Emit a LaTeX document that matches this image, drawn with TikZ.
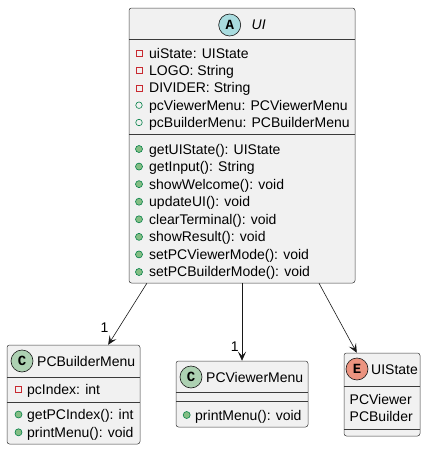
\documentclass[tikz,border=0pt]{standalone}
\usepackage{fontspec}
\setmainfont{Liberation Sans}
\newfontfamily\spotfont{Liberation Mono}
\usetikzlibrary{arrows.meta, calc}

\definecolor{boxfill}{HTML}{F1F1F1}
\definecolor{boxline}{HTML}{181818}
\definecolor{privred}{HTML}{C82930}
\definecolor{pubgreen}{HTML}{038048}
\definecolor{pubfill}{HTML}{84BE84}
\definecolor{absfill}{HTML}{A9DCDF}
\definecolor{classfill}{HTML}{ADD1B2}
\definecolor{enumfill}{HTML}{EB937F}

\begin{document}
\begin{tikzpicture}[x=1pt, y=-1pt]
    % Definizione stili
    \tikzset{
        classbox/.style 2 args={
            rectangle,
            draw=boxline!85,
            fill=boxfill,
            rounded corners=2.5pt,
            line width=0.5pt,
            minimum width=#1,
            minimum height=#2,
            inner sep=0pt
        },
        spot/.style={
            circle,
            draw=boxline,
            fill=#1,
            line width=0.6pt,
            minimum size=22pt,
            inner sep=0pt,
            font=\spotfont\bfseries\fontsize{14}{14}\selectfont
        },
        header/.style={anchor=base west, inner sep=0pt, font=\fontsize{14}{17}\selectfont},
        member/.style={anchor=base west, inner sep=0pt, font=\fontsize{14}{17}\selectfont},
        priv/.style={rectangle, draw=privred, line width=0.6pt, minimum size=6pt, inner sep=0pt},
        pubf/.style={circle, draw=pubgreen, line width=0.6pt, minimum size=6.5pt, inner sep=0pt},
        pubm/.style={circle, draw=pubgreen, fill=pubfill, line width=0.6pt, minimum size=7pt, inner sep=0pt},
        divider/.style={draw=boxline!85, line width=0.5pt},
        assoc/.style={-{Stealth[length=9pt, width=8pt, inset=4pt]}, line width=0.6pt, draw=boxline},
        mult/.style={inner sep=0pt, anchor=base east, font=\fontsize{14}{17}\selectfont}
    }

    \useasboundingbox (0,0) rectangle (426,450);

    % Posizionamento assoluto delle classi
    \node[classbox={226pt}{275pt}] at (242,145.5) (ui) {};
    \node[classbox={133pt}{99pt}] at (73.5,394.5) (pcb) {};
    \node[classbox={132pt}{66pt}] at (242,394) (pcv) {};
    \node[classbox={76pt}{83pt}] at (382,394.5) (state) {};

    % Intestazioni
    \node[spot=absfill] at (229.7,25) (ui-spot) {A};
    \node[header, font=\fontsize{14}{17}\selectfont\itshape] at (251.5,29.5) (ui-name) {UI};
    \node[spot=classfill] at (22,361) (pcb-spot) {C};
    \node[header] at (37,366) (pcb-name) {PCBuilderMenu};
    \node[spot=classfill] at (191,377) (pcv-spot) {C};
    \node[header] at (206,382) (pcv-name) {PCViewerMenu};
    \node[spot=enumfill] at (357,369) (state-spot) {E};
    \node[header] at (371,374) (state-name) {UIState};

    % Separatori
    \draw[divider] (ui.west |- 0,39) -- (ui.east |- 0,39);
    \draw[divider] (ui.west |- 0,134.5) -- (ui.east |- 0,134.5);
    \draw[divider] (pcb.west |- 0,377) -- (pcb.east |- 0,377);
    \draw[divider] (pcb.west |- 0,402) -- (pcb.east |- 0,402);
    \draw[divider] (pcv.west |- 0,392) -- (pcv.east |- 0,392);
    \draw[divider] (pcv.west |- 0,401) -- (pcv.east |- 0,401);
    \draw[divider] (state.west |- 0,386) -- (state.east |- 0,386);
    \draw[divider] (state.west |- 0,429) -- (state.east |- 0,429);

    % Attributi e metodi di UI
    \foreach \vis/\txt [count=\i] in {priv/uiState: UIState, priv/LOGO: String,
        priv/DIVIDER: String, pubf/pcViewerMenu: PCViewerMenu,
        pubf/pcBuilderMenu: PCBuilderMenu} {
        \node[\vis] (ui-v\i) at (139, {53.3+17.3*(\i-1)}) {};
        \node[member] (ui-a\i) at (149, {58.3+17.3*(\i-1)}) {\txt};
    }
    \foreach \txt [count=\i] in {getUIState(): UIState, getInput(): String,
        showWelcome(): void, updateUI(): void, clearTerminal(): void,
        showResult(): void, setPCViewerMode(): void, setPCBuilderMode(): void} {
        \node[pubm] (ui-w\i) at (139, {149+17.57*(\i-1)}) {};
        \node[member] (ui-m\i) at (149, {154+17.57*(\i-1)}) {\txt};
    }

    % Membri delle altre classi
    \node[priv] (pcb-v1) at (18.5,389) {};
    \node[member] (pcb-a1) at (27,394) {pcIndex: int};
    \node[pubm] (pcb-w1) at (18.5,414.5) {};
    \node[member] (pcb-m1) at (27,419.5) {getPCIndex(): int};
    \node[pubm] (pcb-w2) at (18.5,432.3) {};
    \node[member] (pcb-m2) at (27,437.3) {printMenu(): void};

    \node[pubm] (pcv-w1) at (186.7,415) {};
    \node[member] (pcv-m1) at (195,420) {printMenu(): void};

    \node[member] (state-c1) at (349.5,404) {PCViewer};
    \node[member] (state-c2) at (349.5,421) {PCBuilder};

    % Associazioni
    \draw[assoc] ($(ui.south west)!0.08!(ui.south east)$) -- ($(pcb.north west)!0.76!(pcb.north east)$)
        node[mult, pos=1, xshift=0.5pt, yshift=12pt] (m-pcb) {1};
    \draw[assoc] (ui.south) -- (pcv.north)
        node[mult, pos=1, xshift=-3pt, yshift=9pt] (m-pcv) {1};
    \draw[assoc] ($(ui.south west)!0.84!(ui.south east)$) -- ($(state.north west)!0.17!(state.north east)$);

\end{tikzpicture}
\end{document}
